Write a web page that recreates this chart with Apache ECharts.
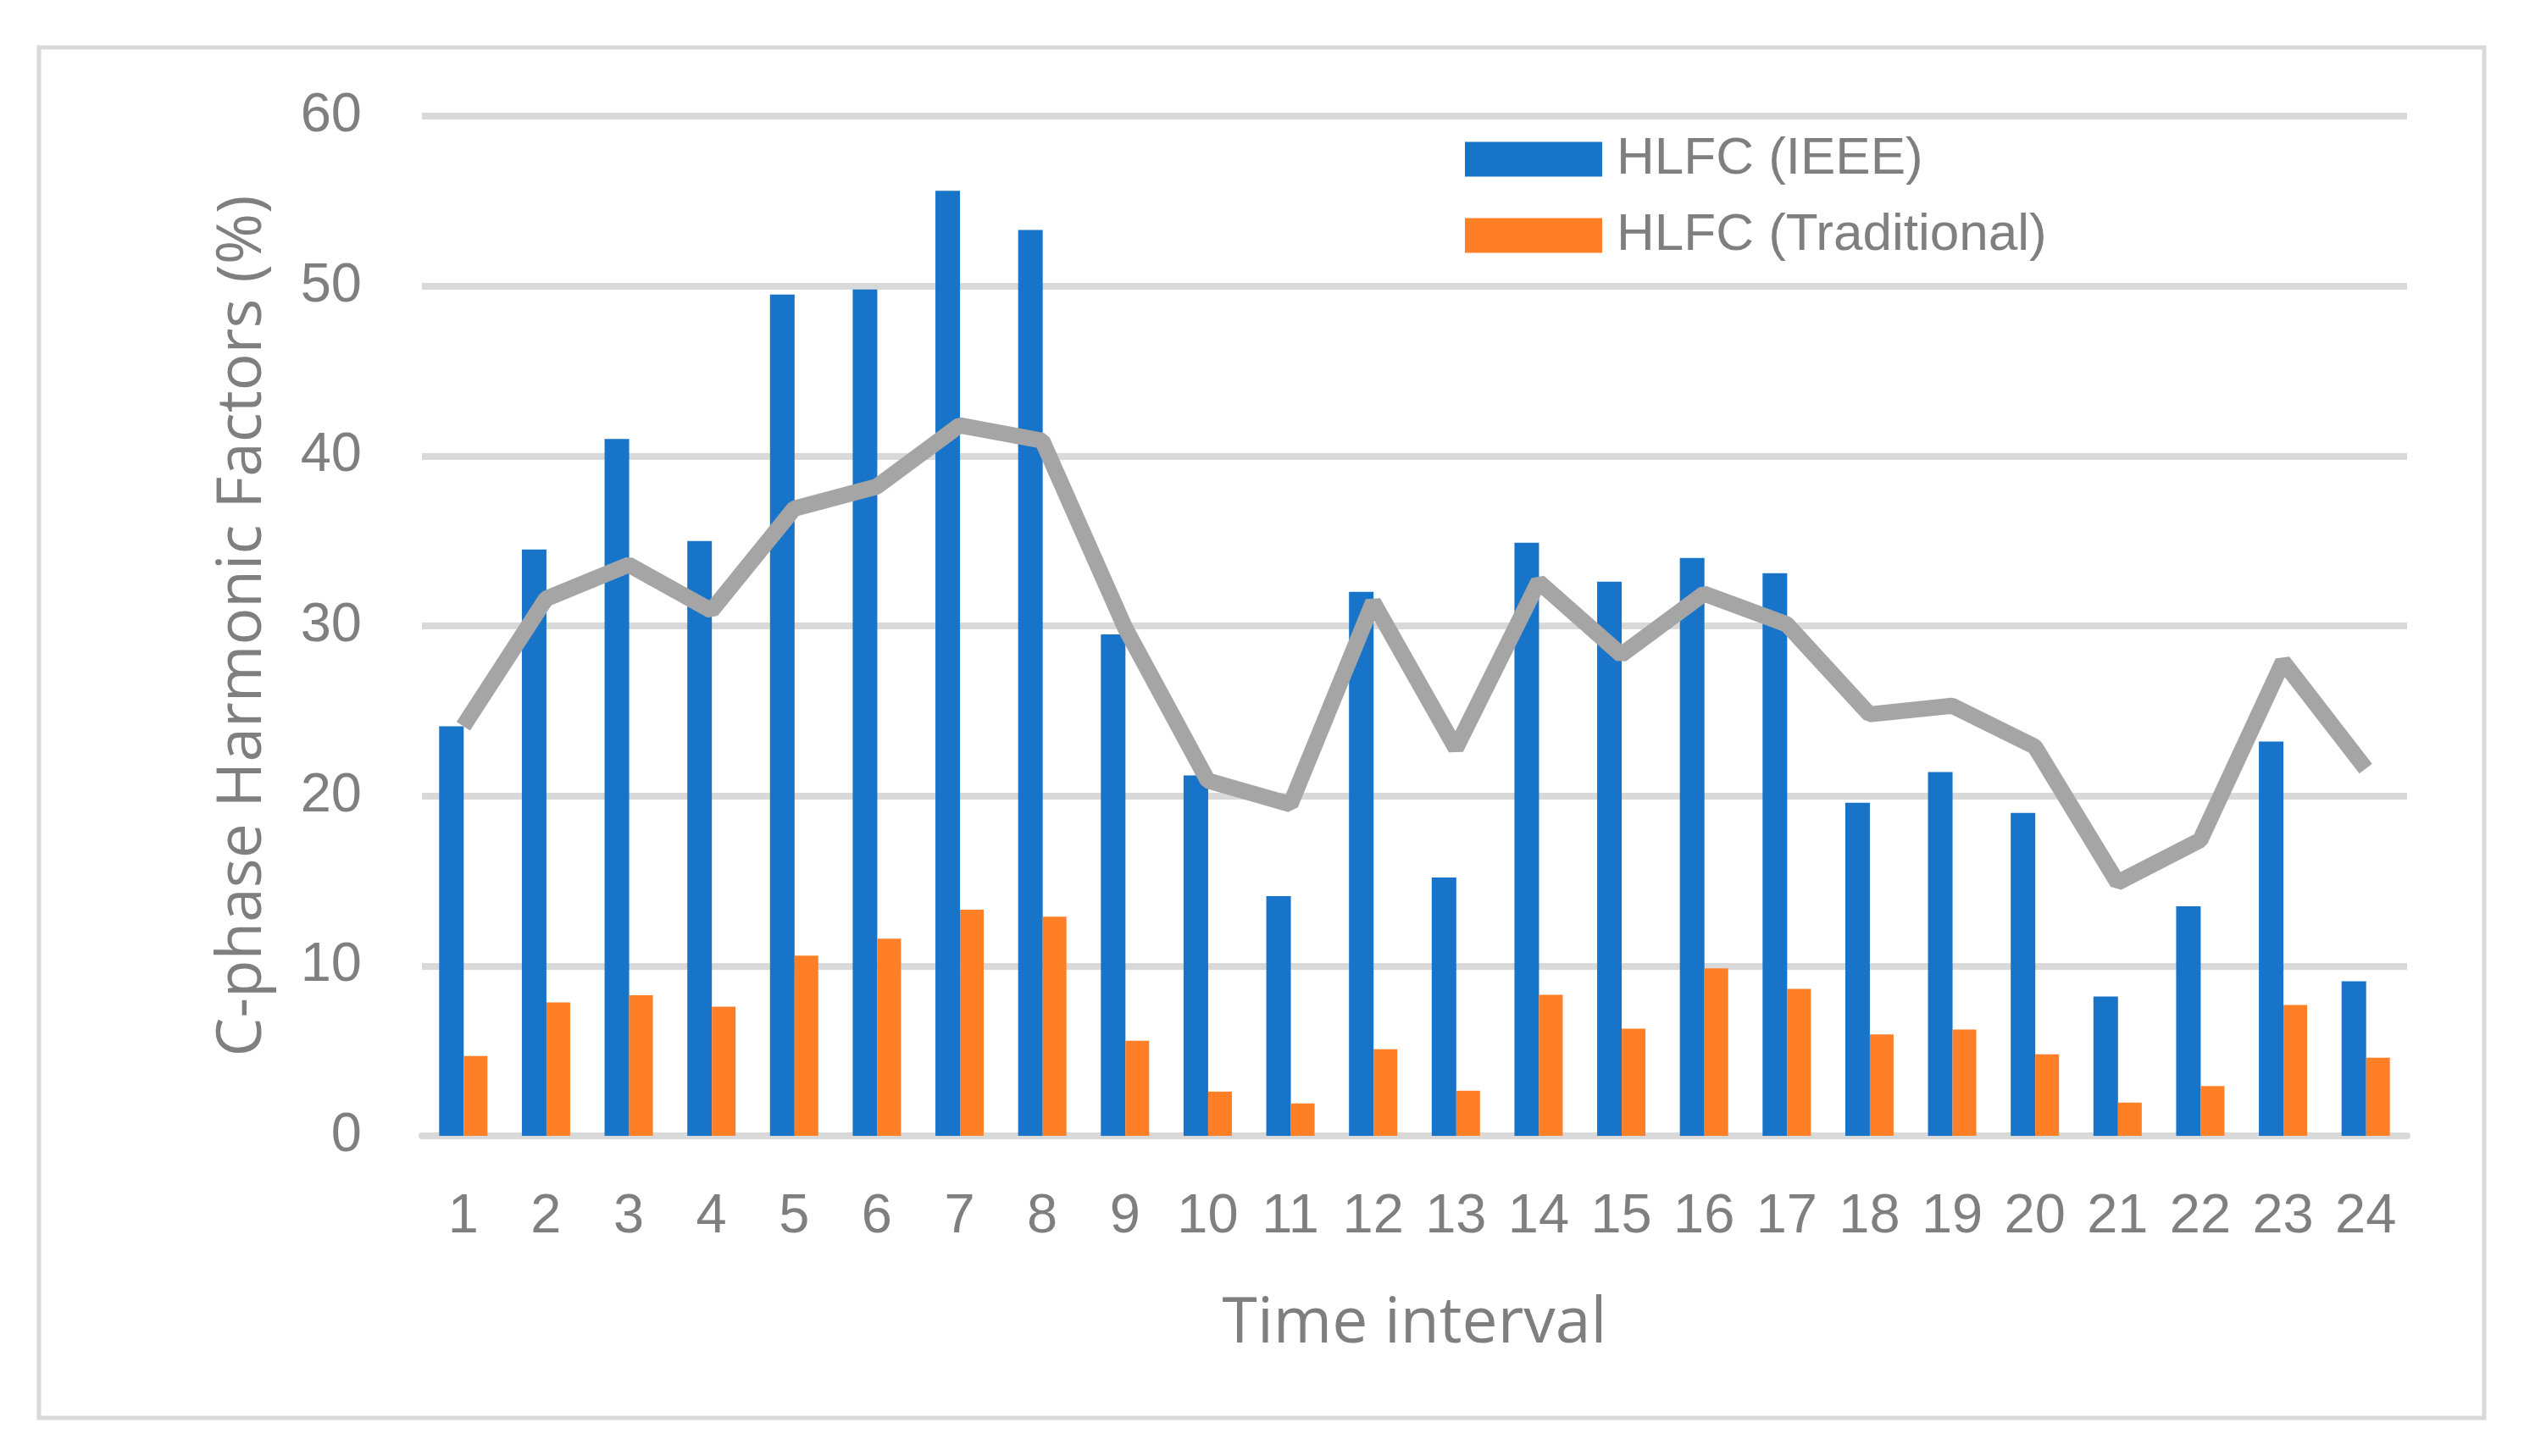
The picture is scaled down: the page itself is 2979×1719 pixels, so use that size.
<!DOCTYPE html>
<html>
<head>
<meta charset="utf-8">
<script src="https://cdn.jsdelivr.net/npm/echarts@6/dist/echarts.min.js"></script>
<style>
html,body{margin:0;padding:0;background:#fff;}
#chart{width:2979px;height:1719px;}
</style>
</head>
<body>
<div id="chart"></div>
<script>
const categories = ['1','2','3','4','5','6','7','8','9','10','11','12','13','14','15','16','17','18','19','20','21','22','23','24'];
const hlfcIEEE = [24.1,34.5,41.0,35.0,49.5,49.8,55.6,53.3,29.5,21.2,14.1,32.0,15.2,34.9,32.6,34.0,33.1,19.6,21.4,19.0,8.2,13.5,23.2,9.1];
const hlfcTrad = [4.7,7.85,8.27,7.6,10.6,11.6,13.3,12.9,5.6,2.6,1.9,5.1,2.65,8.3,6.3,9.85,8.65,5.97,6.25,4.8,1.96,2.93,7.7,4.6];
const lineSeries = [24.1,31.6,33.6,30.9,36.9,38.2,41.8,40.9,29.9,20.9,19.5,31.4,22.8,32.6,28.3,31.9,30.1,24.8,25.3,22.9,14.9,17.4,27.9,21.6];
const yTicks = [0,10,20,30,40,50,60];

const chart = echarts.init(document.getElementById('chart'), null, {renderer:'canvas'});
const grey = '#7f7f7f';
const tickFont = '"Liberation Sans", Arial, sans-serif';
const titleFont = '"Open Sans", "Noto Sans", sans-serif';
chart.setOption({
  animation:false,
  backgroundColor:'#fff',
  graphic:[{
    type:'rect', shape:{x:46,y:56,width:2886,height:1618},
    style:{fill:'none',stroke:'#d9d9d9',lineWidth:5}, z:-1
  }],
  legend:{
    orient:'vertical', left:1724, top:152,
    itemWidth:162, itemHeight:41, itemGap:28,
    icon:'rect',
    data:['HLFC (IEEE)','HLFC (Traditional)'],
    textStyle:{color:grey,fontSize:62,fontFamily:tickFont,padding:[0,0,0,12]}
  },
  grid:{left:498,right:138,top:137,bottom:378,containLabel:false},
  xAxis:{
    type:'category', data:categories,
    name:'Time interval', nameLocation:'middle', nameGap:185,
    nameTextStyle:{color:grey,fontSize:75,fontFamily:titleFont},
    axisLine:{show:true,lineStyle:{color:'#d9d9d9',width:8}},
    axisTick:{show:false},
    axisLabel:{color:grey,fontSize:65,fontFamily:tickFont,margin:64,interval:0}
  },
  yAxis:{
    type:'value', min:0, max:60, interval:10,
    name:'C-phase Harmonic Factors (%)', nameLocation:'middle', nameGap:174,
    nameTextStyle:{color:grey,fontSize:73,fontFamily:titleFont},
    axisLine:{show:false}, axisTick:{show:false},
    splitLine:{lineStyle:{color:'#d9d9d9',width:8}},
    axisLabel:{color:grey,fontSize:65,fontFamily:tickFont,margin:71,
      formatter:function(v){return yTicks.indexOf(v)>=0?String(v):'';}}
  },
  series:[
    {name:'HLFC (IEEE)',type:'bar',data:hlfcIEEE,barWidth:29,barGap:'0%',
      itemStyle:{color:'#1874c9'}},
    {name:'HLFC (Traditional)',type:'bar',data:hlfcTrad,barWidth:28,barGap:'0%',
      itemStyle:{color:'#ff7f27'}},
    {name:'Line',type:'line',data:lineSeries,showSymbol:false,symbol:'none',
      lineStyle:{color:'#a5a5a5',width:19,join:'bevel',cap:'butt'},z:5}
  ]
});
</script>
</body>
</html>
